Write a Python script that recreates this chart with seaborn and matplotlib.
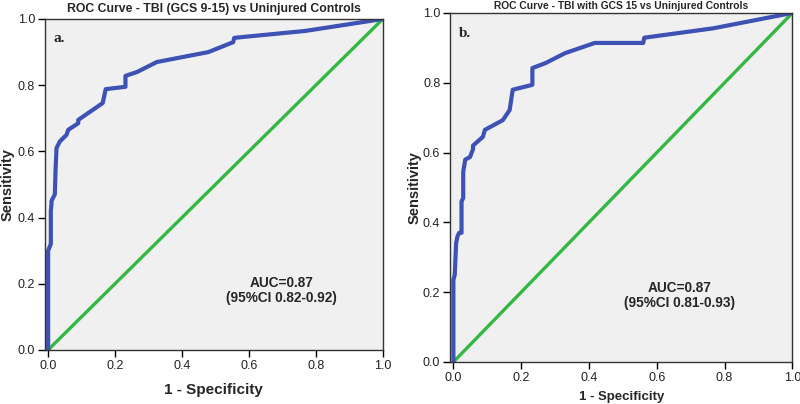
import matplotlib
matplotlib.use("Agg")
import matplotlib.pyplot as plt
import seaborn as sns
import pandas as pd

sns.set_theme(style="ticks")
plt.rcParams["font.family"] = ["Liberation Sans", "DejaVu Sans"]

# ROC curve a: TBI (GCS 9-15) vs uninjured controls
fpr_a = [0.0, 0.0, 0.008, 0.008, 0.01, 0.01, 0.02, 0.022, 0.025, 0.035, 0.055,
         0.06, 0.09, 0.09, 0.163, 0.172, 0.231, 0.231, 0.266, 0.325, 0.479,
         0.553, 0.556, 0.769, 1.0]
tpr_a = [0.0, 0.30, 0.32, 0.42, 0.44, 0.45, 0.47, 0.54, 0.61, 0.63, 0.65,
         0.665, 0.685, 0.695, 0.746, 0.788, 0.795, 0.828, 0.84, 0.87, 0.90,
         0.93, 0.943, 0.964, 1.0]

# ROC curve b: TBI with GCS 15 vs uninjured controls
fpr_b = [0.0, 0.0, 0.004, 0.008, 0.012, 0.017, 0.024, 0.024, 0.029, 0.029,
         0.035, 0.049, 0.058, 0.058, 0.087, 0.093, 0.146, 0.166, 0.175, 0.233,
         0.233, 0.271, 0.33, 0.417, 0.56, 0.563, 0.767, 1.0]
tpr_b = [0.0, 0.235, 0.25, 0.34, 0.36, 0.37, 0.37, 0.46, 0.47, 0.545,
         0.58, 0.587, 0.61, 0.62, 0.645, 0.665, 0.693, 0.722, 0.78, 0.794,
         0.842, 0.856, 0.885, 0.914, 0.914, 0.929, 0.956, 1.0]

ref = [0.0, 1.0]
ticks = [0.0, 0.2, 0.4, 0.6, 0.8, 1.0]

panels = [
    dict(fpr=fpr_a, tpr=tpr_a, title="ROC Curve - TBI (GCS 9-15) vs Uninjured Controls",
         tag="a.", auc="AUC=0.87\n(95%CI 0.82-0.92)",
         rect=[0.056, 0.134, 0.4225, 0.819], title_size=8.8, title_pad=5,
         xlab_size=11, xlab_pad=8, ylab_pad=2, auc_pos=(0.70, 0.18)),
    dict(fpr=fpr_b, tpr=tpr_b, title="ROC Curve - TBI with GCS 15 vs Uninjured Controls",
         tag="b.", auc="AUC=0.87\n(95%CI 0.81-0.93)",
         rect=[0.5625, 0.104, 0.428, 0.864], title_size=7.4, title_pad=3,
         xlab_size=9.5, xlab_pad=5, ylab_pad=1, auc_pos=(0.67, 0.19)),
]

fig = plt.figure(figsize=(8, 4.04), dpi=100)

for p in panels:
    ax = fig.add_axes(p["rect"])
    ax.set_facecolor("#f0f0f0")
    df = pd.DataFrame({"fpr": p["fpr"], "tpr": p["tpr"]})
    sns.lineplot(x=ref, y=ref, ax=ax, color="#33b843", linewidth=2.4)
    sns.lineplot(data=df, x="fpr", y="tpr", ax=ax, sort=False, estimator=None,
                 color="#3d52b4", linewidth=3.0)
    ax.set_xlim(-0.01, 1.0)
    ax.set_ylim(0.0, 1.0)
    ax.set_xticks(ticks)
    ax.set_yticks(ticks)
    ax.set_xticklabels([f"{t:.1f}" for t in ticks])
    ax.set_yticklabels([f"{t:.1f}" for t in ticks])
    ax.tick_params(axis="both", labelsize=9, length=5, width=1, color="black",
                   labelcolor="#222222", direction="out", pad=2)
    for s in ax.spines.values():
        s.set_color("#333333")
        s.set_linewidth(1.0)
    ax.set_title(p["title"], fontsize=p["title_size"], fontweight="bold",
                 pad=p["title_pad"])
    ax.set_xlabel("1 - Specificity", fontsize=p["xlab_size"], fontweight="bold",
                  labelpad=p["xlab_pad"])
    ax.set_ylabel("Sensitivity", fontsize=10.5, fontweight="bold",
                  labelpad=p["ylab_pad"])
    ax.text(0.025, 0.94, p["tag"], transform=ax.transAxes, fontsize=11,
            fontweight="bold", family=["Liberation Serif", "DejaVu Serif"],
            va="center", ha="left")
    ax.text(p["auc_pos"][0], p["auc_pos"][1], p["auc"], transform=ax.transAxes,
            fontsize=9.8, fontweight="bold", ha="center", va="center",
            linespacing=1.1)

fig.savefig("out.png", dpi=100)
